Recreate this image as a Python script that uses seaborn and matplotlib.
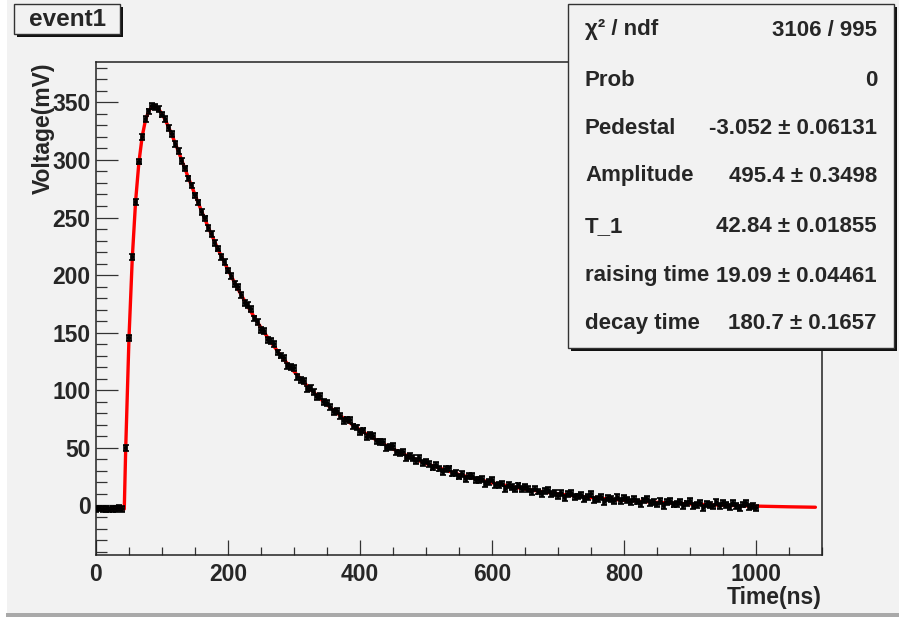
import matplotlib
matplotlib.use("Agg")
import matplotlib.pyplot as plt
from matplotlib.patches import Rectangle
from matplotlib.ticker import MultipleLocator
import seaborn as sns
import numpy as np

# waveform samples (ns, mV)
time_ns = list(range(0, 1001, 5))
voltage_mv = [
    -3.4, -2.6, -3.3, -2.8, -3.6, -2.9, -3.1, -2.5, -3.3,
    49.8, 145.2, 216.0, 263.4, 298.6, 319.8, 335.3, 342.1, 346.6, 345.9,
    344.5, 339.4, 335.2, 327.9, 322.3, 314.0, 307.7, 299.1, 292.6, 283.9,
    277.8, 269.2, 263.1, 254.8, 249.2, 241.0, 235.8, 228.1, 223.0, 215.5,
    211.1, 203.9,
    199.5, 192.0, 189.9, 182.5, 175.5, 173.9, 170.6, 162.4, 159.0, 152.6,
    151.5, 143.4, 142.6, 140.0, 132.9, 130.1, 128.3, 121.1, 120.1, 119.1,
    111.5, 109.2, 108.0, 101.1, 101.8, 98.2, 94.0, 94.9, 89.5, 89.2,
    85.6, 81.2, 82.2, 77.7, 73.6, 74.7, 74.1, 68.6, 67.7, 63.8,
    65.1, 59.4, 60.9, 60.5, 55.6, 54.9, 55.1, 50.0, 50.9, 51.8,
    46.0, 45.5, 46.1, 40.9, 43.2, 41.2, 38.6, 41.0, 37.0, 38.1,
    36.0, 32.9, 35.2, 32.0, 29.1, 31.5, 32.1, 27.7, 27.9, 25.1,
    27.5, 22.8, 25.3, 25.9, 21.9, 22.1, 23.2, 18.9, 20.7, 22.5,
    17.4, 17.7, 19.0, 14.6, 17.6, 16.3, 14.4, 17.4, 14.2, 15.9,
    14.3, 11.8, 14.7, 12.1, 9.7, 12.6, 13.7, 9.9, 10.6, 8.2,
    11.1, 6.8, 9.8, 10.7, 7.2, 7.8, 9.3, 5.4, 7.5, 9.7,
    5.0, 5.6, 7.3, 3.1, 6.5, 5.4, 3.8, 7.2, 4.2, 6.2,
    4.9, 2.7, 5.8, 3.4, 1.3, 4.4, 5.7, 2.1, 3.0, 0.9,
    3.9, -0.2, 3.0, 4.2, 0.8, 1.6, 3.2, -0.5, 1.8, 4.1,
    -0.5, 0.3, 2.1, -1.9, 1.6, 0.7, -0.8, 2.7, -0.2, 1.9,
    0.7, -1.4, 1.9, -0.4, -2.4, 0.8, 2.3, -1.3, -0.3, -2.4,
]
voltage_err = 2.5
time_err = 2.5

# fitted pulse (red curve)
fit_t = [0, 42.84, 45, 50, 55, 60, 65, 70, 75, 80, 85, 90, 95, 100,
         105, 110, 115, 120, 125, 130, 135, 140, 145, 150, 155, 160, 165,
         170, 175, 180, 185, 190, 195, 200, 210, 220, 230, 240, 250, 260,
         270, 280, 290, 300, 320, 340, 360, 380, 400, 425, 450, 475, 500,
         550, 600, 650, 700, 750, 800, 850, 900, 950, 1000, 1050, 1090]
fit_v = [-3.05, -3.05, 49.3, 145.9, 215.1, 264.1, 297.9, 320.4, 334.7, 342.7,
         346.1, 346.3, 344.0, 339.9, 334.6, 328.4, 321.7, 314.5, 307.1, 299.6,
         292.0, 284.5, 277.1, 269.8, 262.5, 255.5, 248.5, 241.7, 235.1, 228.7,
         222.4, 216.2, 210.4, 204.6, 193.4, 182.8, 172.8, 163.3, 154.4, 145.9,
         137.9, 130.3, 123.1, 116.3, 103.8, 92.6, 82.6, 73.6, 65.6, 56.7,
         49.0, 42.3, 36.4, 26.9, 19.7, 14.2, 10.0, 6.9, 4.5, 2.7,
         1.3, 0.2, -0.56, -1.16, -1.54]

stat_names = ["χ² / ndf", "Prob", "Pedestal", "Amplitude", "T_1",
              "raising time", "decay time"]
stat_values = ["3106 / 995", "0", "-3.052 ± 0.06131", "495.4 ± 0.3498",
               "42.84 ± 0.01855", "19.09 ± 0.04461", "180.7 ± 0.1657"]

sns.set_style("ticks")
plt.rcParams['font.family'] = ['Liberation Sans', 'DejaVu Sans']
plt.rcParams['font.weight'] = 'bold'

W, H = 899, 617
bg = "#f2f2f2"
fig = plt.figure(figsize=(W / 100, H / 100), dpi=100, facecolor="white")


def fx(px):
    return px / W


def fy(py):
    return 1 - py / H


# canvas background and bottom border
fig.patches.append(Rectangle((fx(7), fy(613)), 1, 1, transform=fig.transFigure,
                             facecolor=bg, edgecolor="none", zorder=-10))
fig.patches.append(Rectangle((fx(6), 0), 1, fy(613), transform=fig.transFigure,
                             facecolor="#a9a9a9", edgecolor="none", zorder=-10))

ax = fig.add_axes([fx(96), fy(555), fx(822) - fx(96), fy(62) - fy(555)])
ax.set_facecolor(bg)

sns.lineplot(x=fit_t, y=fit_v, color="red", linewidth=2.4, ax=ax, zorder=2)
ax.errorbar(time_ns, voltage_mv, xerr=time_err, yerr=voltage_err, fmt="none",
            ecolor="black", elinewidth=1.4, capsize=2.2, capthick=1.2, zorder=3)

ax.set_xlim(0, 1100)
ax.set_ylim(-43, 385)
ax.xaxis.set_major_locator(MultipleLocator(200))
ax.xaxis.set_minor_locator(MultipleLocator(50))
ax.yaxis.set_major_locator(MultipleLocator(50))
ax.yaxis.set_minor_locator(MultipleLocator(10))
ax.tick_params(axis="both", which="both", direction="in", width=0.9,
               color="#333333", labelsize=16.5)
ax.tick_params(axis="x", which="major", length=11, pad=6)
ax.tick_params(axis="x", which="minor", length=6)
ax.tick_params(axis="y", which="major", length=16, pad=4)
ax.tick_params(axis="y", which="minor", length=8)
for lab in ax.get_xticklabels() + ax.get_yticklabels():
    lab.set_fontweight("bold")
for s in ax.spines.values():
    s.set_linewidth(1.1)
    s.set_color("#222222")

ax.set_xlabel("Time(ns)", fontsize=16.5, fontweight="bold", loc="right", labelpad=0)
ax.set_ylabel("Voltage(mV)", fontsize=16.5, fontweight="bold", loc="top", labelpad=-2)

# title box with shadow
fig.patches.append(Rectangle((fx(17), fy(37)), fx(120) - fx(14), fy(4) - fy(34),
                             transform=fig.transFigure, facecolor="#111111",
                             edgecolor="none", zorder=5))
fig.patches.append(Rectangle((fx(14), fy(34)), fx(120) - fx(14), fy(4) - fy(34),
                             transform=fig.transFigure, facecolor=bg,
                             edgecolor="#333333", linewidth=1.0, zorder=6))
fig.text(fx(67), fy(19), "event1", fontsize=17.5, fontweight="bold",
         ha="center", va="center", zorder=7)

# stats box with shadow
fig.patches.append(Rectangle((fx(571), fy(351)), fx(894) - fx(568), fy(4) - fy(348),
                             transform=fig.transFigure, facecolor="#111111",
                             edgecolor="none", zorder=5))
fig.patches.append(Rectangle((fx(568), fy(348)), fx(894) - fx(568), fy(4) - fy(348),
                             transform=fig.transFigure, facecolor=bg,
                             edgecolor="#333333", linewidth=1.0, zorder=6))
row_y = [30, 80, 128, 176, 227, 276, 324]
for name, val, y in zip(stat_names, stat_values, row_y):
    fig.text(fx(585), fy(y), name, fontsize=16, fontweight="bold",
             ha="left", va="center", zorder=7)
    fig.text(fx(877), fy(y), val, fontsize=16, fontweight="bold",
             ha="right", va="center", zorder=7)

fig.savefig("out.png", dpi=100, facecolor=fig.get_facecolor())
